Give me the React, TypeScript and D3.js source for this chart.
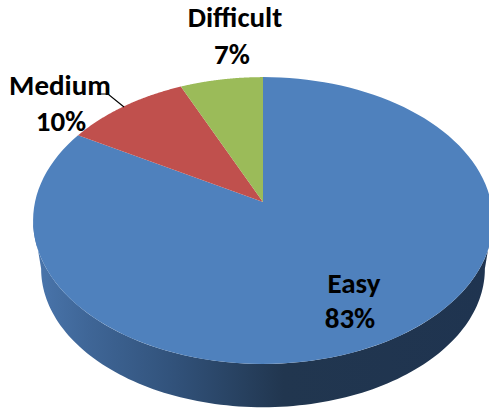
import React from 'react';
import * as d3 from 'd3';

const categories = ['Easy', 'Medium', 'Difficult'];
const labels = ['83%', '10%', '7%'];
// slice sizes (the labels are rounded)
const values = [83.4, 10, 6.6];
const colors = ['#4f81bd', '#c0504d', '#9bbb59'];

const WIDTH = 489;
const HEIGHT = 409;
const APEX_X = 263;
const APEX_Y = 202;
const RX = 228;
const RY = 141;
const PERSP = 0.129; // perspective of the tilted disc
const DEPTH = 49;
const BOTTOM_SCALE = 0.965;

// pie angle (0 = top, clockwise) to a point on the tilted disc
const project = (a: number, scale = 1, dy = 0): [number, number] => {
  const u = Math.sin(a);
  const v = -Math.cos(a);
  const s = scale / (1 - PERSP * v);
  return [APEX_X + RX * u * s, APEX_Y + dy + RY * v * s];
};

const rimPoints = (a0: number, a1: number, scale = 1, dy = 0) =>
  d3.range(0, 121).map(i => project(a0 + ((a1 - a0) * i) / 120, scale, dy));

const line = d3.line();

const App: React.FC = () => {
  const pie = d3.pie<number>().sort(null).startAngle(0).endAngle(2 * Math.PI);
  const arcs = pie(values);

  // the wall runs between the disc's widest points
  const leftA = (3 * Math.PI) / 2 - Math.asin(PERSP);
  const rightA = Math.PI / 2 + Math.asin(PERSP);
  const wall = [
    ...rimPoints(rightA, leftA),
    ...rimPoints(leftA, rightA, BOTTOM_SCALE, DEPTH),
  ];

  const labelStyle: React.CSSProperties = {
    fontFamily: 'Carlito, "Open Sans", "Noto Sans", sans-serif',
    fontWeight: 700,
    fontSize: 29,
    fill: '#000',
  };
  const labelPos = [
    { x: 354, y: 293, x2: 350, y2: 328 },
    { x: 60, y: 95, x2: 61, y2: 131 },
    { x: 235, y: 27, x2: 232, y2: 64 },
  ];

  return (
    <svg
      width={WIDTH}
      height={HEIGHT}
      style={{ position: 'absolute', left: 0, top: 0 }}
    >
      <defs>
        <linearGradient id="wall" gradientUnits="userSpaceOnUse" x1="33" x2="489" y1="0" y2="0">
          <stop offset="0" stopColor="#4a76ad" />
          <stop offset="0.12" stopColor="#3f6697" />
          <stop offset="0.3" stopColor="#32537c" />
          <stop offset="0.55" stopColor="#21364f" />
          <stop offset="1" stopColor="#1f3450" />
        </linearGradient>
      </defs>
      <path d={line(wall) + 'Z'} fill="url(#wall)" />
      {arcs.map((d, i) => (
        <path
          key={categories[i]}
          d={line([[APEX_X, APEX_Y], ...rimPoints(d.startAngle, d.endAngle)]) + 'Z'}
          fill={colors[i]}
        />
      ))}
      <polyline
        points="97,94 108,94 124,107"
        fill="none"
        stroke="#000"
        strokeWidth={1.2}
      />
      {categories.map((c, i) => (
        <g key={c} style={labelStyle} textAnchor="middle">
          <text x={labelPos[i].x} y={labelPos[i].y}>{c}</text>
          <text x={labelPos[i].x2} y={labelPos[i].y2}>{labels[i]}</text>
        </g>
      ))}
    </svg>
  );
};

export default App;
